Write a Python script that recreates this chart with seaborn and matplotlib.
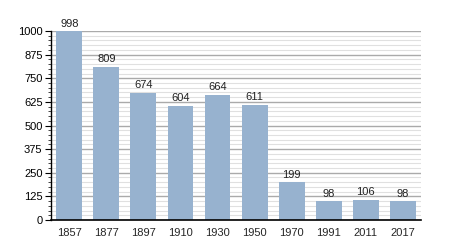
import matplotlib
matplotlib.use("Agg")
import matplotlib.pyplot as plt
import seaborn as sns
import pandas as pd
from matplotlib.ticker import MultipleLocator

years = ["1857", "1877", "1897", "1910", "1930", "1950", "1970", "1991", "2011", "2017"]
population = [998, 809, 674, 604, 664, 611, 199, 98, 106, 98]

sns.set_style("white")
plt.rcParams['font.family'] = ['Liberation Sans', 'DejaVu Sans']

df = pd.DataFrame({"year": years, "pop": population})

fig = plt.figure(figsize=(4.5, 2.5), dpi=100)
ax = fig.add_axes([0.113, 0.12, 0.823, 0.756])

ax.set_ylim(0, 1000)
ax.yaxis.set_major_locator(MultipleLocator(125))
ax.yaxis.set_minor_locator(MultipleLocator(25))
ax.grid(which="major", axis="y", color="#aaaaaa", linewidth=1.0, zorder=0)
ax.grid(which="minor", axis="y", color="#e0e0e0", linewidth=0.8, zorder=0)
ax.set_axisbelow(True)

sns.barplot(data=df, x="year", y="pop", color="#97b2cf", saturation=1, width=0.7,
            linewidth=0, edgecolor="none", ax=ax, zorder=2)

for i, v in enumerate(population):
    ax.text(i, v + 15, str(v), ha="center", va="bottom", fontsize=8, color="#222222")

ax.set_xlim(-0.5, len(years) - 0.5)
ax.set_xlabel("")
ax.set_ylabel("")
for s in ["top", "right"]:
    ax.spines[s].set_visible(False)
ax.spines["left"].set_color("black")
ax.spines["left"].set_linewidth(1.0)
ax.spines["bottom"].set_color("black")
ax.spines["bottom"].set_linewidth(1.2)
ax.tick_params(axis="y", which="major", left=True, length=4, width=0.8, labelsize=8, pad=2, colors="black")
ax.tick_params(axis="y", which="minor", left=True, length=2, width=0.6)
ax.tick_params(axis="x", bottom=False, labelsize=8, pad=2)

fig.savefig("out.png", dpi=100)
